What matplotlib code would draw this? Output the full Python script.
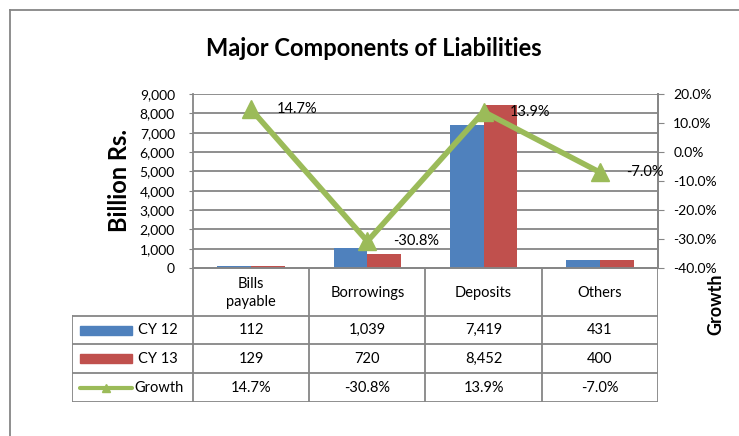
import matplotlib
matplotlib.use("Agg")
import matplotlib.pyplot as plt
from matplotlib.lines import Line2D
from matplotlib.patches import Rectangle
import numpy as np

plt.rcParams['font.family'] = ['Lato', 'DejaVu Sans']

categories = ["Bills\npayable", "Borrowings", "Deposits", "Others"]
cy12 = [112, 1039, 7419, 431]
cy13 = [129, 720, 8452, 400]
growth = [14.7, -30.8, 13.9, -7.0]

blue = '#4F81BD'
red = '#C0504D'
green = '#9BBB59'
gray = '#868686'

W, H = 739, 436
fig = plt.figure(figsize=(W / 100, H / 100), dpi=100)


def fbox(x0, y0, x1, y1):
    # pixel box (top-left origin) -> figure fraction rect
    return [x0 / W, 1 - y1 / H, (x1 - x0) / W, (y1 - y0) / H]


# outer chart frame (left and top edges visible)
fig.add_artist(Line2D([10 / W, 10 / W], [0, 1 - 10 / H], color=gray, lw=1.3))
fig.add_artist(Line2D([10 / W, 1], [1 - 10 / H, 1 - 10 / H], color=gray, lw=1.3))

fig.text(374 / W, 1 - 48 / H, "Major Components of Liabilities",
         ha='center', va='center', fontsize=17, fontweight='bold')

ax = fig.add_axes(fbox(193, 94, 658, 268))
x = np.arange(len(categories))
bw = 0.29
ax.bar(x - bw / 2, cy12, bw, color=blue, zorder=2)
ax.bar(x + bw / 2, cy13, bw, color=red, zorder=2)
ax.set_xlim(-0.5, 3.5)
ax.set_ylim(0, 9000)
ax.set_yticks(np.arange(0, 9001, 1000))
ax.set_yticklabels([f"{int(v):,}" for v in np.arange(0, 9001, 1000)])
ax.set_xticks([])
ax.grid(axis='y', color=gray, lw=1.3, zorder=0)
ax.spines['top'].set_visible(False)
for s in ['left', 'right', 'bottom']:
    ax.spines[s].set_color(gray)
    ax.spines[s].set_linewidth(1.3)
ax.tick_params(axis='y', direction='out', length=3, color=gray, labelsize=10, pad=10)
ax.set_ylabel("Billion Rs.", fontsize=17, fontweight='bold', labelpad=6)

ax2 = ax.twinx()
ax2.plot(x, growth, color=green, lw=4, marker='^', markersize=13, zorder=5)
ax2.set_ylim(-40, 20)
ax2.set_yticks(np.arange(-40, 21, 10))
ax2.set_yticklabels([f"{v:.1f}%" for v in np.arange(-40, 21, 10)])
for s in ['top', 'left', 'bottom']:
    ax2.spines[s].set_visible(False)
ax2.spines['right'].set_color(gray)
ax2.spines['right'].set_linewidth(1.3)
ax2.tick_params(axis='y', direction='out', length=4, color=gray, labelsize=10, pad=7)
for xi, g in zip(x, growth):
    ax2.annotate(f"{g:.1f}%", (xi, g), xytext=(26, 0), textcoords='offset pixels',
                 ha='left', va='center', fontsize=10.5)

fig.text(716 / W, 1 - 304 / H, "Growth", rotation=90, ha='center', va='center',
         fontsize=13, fontweight='bold')

# data table under the plot, sharing the category columns
cat_px = 465 / 4
x0 = -0.5 - 121 / cat_px
tb = fig.add_axes(fbox(72, 268, 658, 402))
tb.set_xlim(x0, 3.5)
tb.set_ylim(134, 0)
tb.axis('off')
rows = [0, 48, 76, 105, 134]
lk = dict(color=gray, lw=1.3, solid_capstyle='projecting')
for b in np.arange(-0.5, 3.6, 1.0):
    tb.plot([b, b], [0, 134], **lk)
tb.plot([x0, x0], [48, 134], **lk)
tb.plot([-0.5, 3.5], [0, 0], **lk)
for r in rows[1:]:
    tb.plot([x0, 3.5], [r, r], **lk)

for i, c in enumerate(categories):
    tb.text(i, 25, c, ha='center', va='center', fontsize=10.5, linespacing=1.4)

row_vals = [[f"{v:,}" for v in cy12], [f"{v:,}" for v in cy13],
            [f"{g:.1f}%" for g in growth]]
for r, vals in enumerate(row_vals):
    yc = (rows[r + 1] + rows[r + 2]) / 2
    for i, v in enumerate(vals):
        tb.text(i, yc, v, ha='center', va='center', fontsize=10.5)

# legend keys in the first column
kx0 = x0 + 8 / cat_px
kx1 = x0 + 60 / cat_px
tx = x0 + 66 / cat_px
for r, (col, name) in enumerate([(blue, "CY 12"), (red, "CY 13")]):
    yc = (rows[r + 1] + rows[r + 2]) / 2
    tb.add_patch(Rectangle((kx0, yc - 4.5), kx1 - kx0, 9, color=col))
    tb.text(tx, yc, name, ha='left', va='center', fontsize=10.5)
yc = (rows[3] + rows[4]) / 2
tb.plot([kx0, kx1], [yc, yc], color=green, lw=3, solid_capstyle='round')
tb.plot([(kx0 + kx1) / 2], [yc], color=green, marker='^', markersize=6)
tb.text(tx - 4 / cat_px, yc, "Growth", ha='left', va='center', fontsize=10.5)

fig.savefig("out.png", dpi=100)
